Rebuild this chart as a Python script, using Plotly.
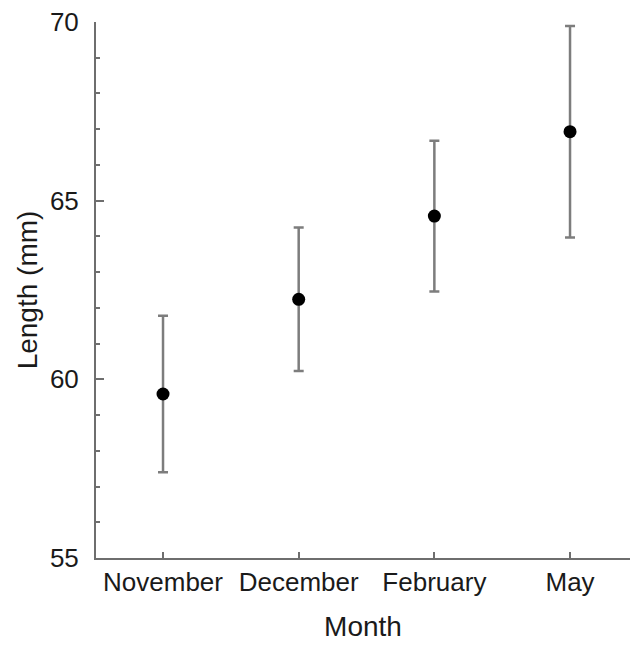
import plotly.graph_objects as go

months = ["November", "December", "February", "May"]
mean_length = [59.59, 62.24, 64.57, 66.93]
err = [2.19, 2.01, 2.11, 2.96]

fig = go.Figure()
fig.add_trace(go.Scatter(
    x=list(range(len(months))), y=mean_length, mode="markers",
    marker=dict(color="black", size=13),
    error_y=dict(type="data", array=err, visible=True, color="#7d7d7d",
                 thickness=2.5, width=5),
    showlegend=False,
))

font = "Liberation Sans, Arial, sans-serif"
fig.update_layout(
    width=630, height=646,
    margin=dict(l=96, r=0, t=22, b=88),
    plot_bgcolor="white", paper_bgcolor="white",
    font=dict(family=font, color="#1a1a1a"),
    xaxis=dict(
        range=[-0.494, 3.442], tickvals=list(range(len(months))), ticktext=months,
        showline=True, linecolor="#6e6e6e", linewidth=2,
        ticks="inside", ticklen=6, tickwidth=1.5, tickcolor="#6e6e6e",
        showgrid=False, zeroline=False,
        tickfont=dict(size=26, family=font),
        title=dict(text="Month", font=dict(size=28, family=font), standoff=20),
    ),
    yaxis=dict(
        range=[55, 70], tickvals=[55, 60, 65, 70],
        showline=True, linecolor="#6e6e6e", linewidth=2,
        ticks="inside", ticklen=8, tickwidth=1.5, tickcolor="#6e6e6e",
        minor=dict(dtick=1, ticks="inside", ticklen=4, tickwidth=1.5, tickcolor="#6e6e6e"),
        showgrid=False, zeroline=False,
        tickfont=dict(size=26, family=font),
        ticklabelstandoff=10,
        title=dict(text="Length (mm)", font=dict(size=28, family=font), standoff=4),
    ),
)

fig.write_html("out.html", config={"displayModeBar": False},
               post_script="document.body.style.margin='0';")
